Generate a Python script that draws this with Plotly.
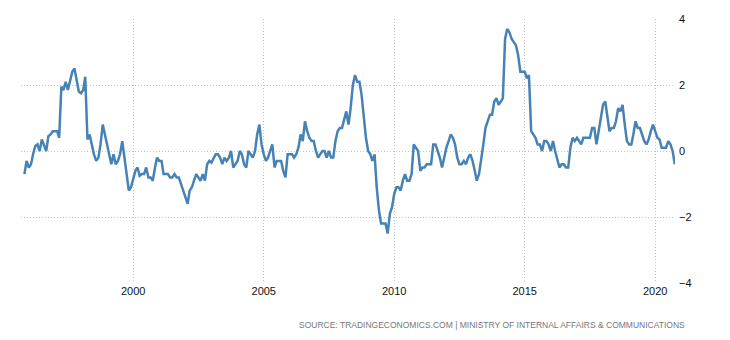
import pandas as pd
import plotly.graph_objects as go

# Japan inflation rate, year-on-year %, monthly from Nov 1995 to Oct 2020
start_month = "1995-11-01"
inflation = [
    -0.7, -0.3,
    -0.5, -0.4, -0.1, 0.15, 0.2, 0.0, 0.35, 0.15, 0.0, 0.45, 0.5, 0.6,
    0.6, 0.6, 0.4, 1.95, 1.85, 2.1, 1.85, 2.1, 2.4, 2.5, 2.1, 1.8,
    1.75, 1.85, 2.25, 0.35, 0.5, 0.15, -0.1, -0.3, -0.2, 0.2, 0.8, 0.5,
    0.2, -0.1, -0.4, -0.1, -0.4, -0.3, -0.1, 0.3, -0.2, -0.7, -1.2, -1.1,
    -0.8, -0.6, -0.5, -0.75, -0.7, -0.7, -0.5, -0.8, -0.8, -0.9, -0.5, -0.2,
    -0.3, -0.3, -0.7, -0.7, -0.7, -0.8, -0.8, -0.7, -0.8, -0.8, -1.0, -1.2,
    -1.4, -1.6, -1.2, -1.1, -0.9, -0.7, -0.8, -0.9, -0.7, -0.9, -0.4, -0.3,
    -0.35, -0.2, -0.1, -0.1, -0.2, -0.4, -0.2, -0.3, -0.2, 0.0, -0.5, -0.4,
    -0.3, 0.0, -0.1, -0.4, -0.5, 0.0, -0.1, -0.2, 0.0, 0.5, 0.8, 0.2,
    -0.1, -0.3, -0.2, 0.0, 0.2, -0.5, -0.3, -0.3, -0.3, -0.6, -0.8, -0.1,
    -0.1, -0.1, -0.2, -0.1, 0.1, 0.5, 0.3, 0.9, 0.6, 0.4, 0.3, 0.3,
    0.0, -0.2, -0.1, 0.0, 0.0, -0.2, 0.0, -0.2, -0.2, 0.3, 0.6, 0.7,
    0.7, 1.0, 1.2, 0.8, 1.3, 2.0, 2.3, 2.1, 2.1, 1.7, 1.0, 0.4,
    0.0, -0.1, -0.3, -0.1, -1.1, -1.8, -2.2, -2.2, -2.2, -2.5, -1.9, -1.7,
    -1.3, -1.1, -1.1, -1.2, -0.9, -0.7, -0.9, -0.9, -0.7, 0.2, 0.1, 0.0,
    -0.6, -0.5, -0.5, -0.4, -0.4, -0.4, 0.2, 0.2, 0.0, -0.2, -0.5, -0.2,
    0.1, 0.3, 0.5, 0.4, 0.2, -0.2, -0.4, -0.4, -0.3, -0.4, -0.2, -0.1,
    -0.3, -0.6, -0.9, -0.7, -0.3, 0.2, 0.7, 0.9, 1.1, 1.1, 1.5, 1.6,
    1.4, 1.5, 1.6, 3.4, 3.7, 3.6, 3.4, 3.3, 3.2, 2.9, 2.4, 2.4,
    2.4, 2.2, 2.3, 0.6, 0.5, 0.4, 0.2, 0.2, 0.0, 0.3, 0.3, 0.2,
    0.0, 0.3, 0.0, -0.3, -0.5, -0.4, -0.4, -0.5, -0.5, 0.1, 0.4, 0.3,
    0.4, 0.3, 0.2, 0.4, 0.4, 0.4, 0.4, 0.7, 0.7, 0.2, 0.6, 1.0,
    1.4, 1.5, 1.1, 0.6, 0.7, 0.7, 0.9, 1.3, 1.2, 1.4, 0.8, 0.3,
    0.2, 0.2, 0.5, 0.9, 0.7, 0.7, 0.5, 0.3, 0.2, 0.35, 0.6, 0.8,
    0.6, 0.4, 0.35, 0.1, 0.1, 0.1, 0.3, 0.2, 0.0, -0.4,
]
months = pd.date_range(start_month, periods=len(inflation), freq="MS")

y_ticks = [-4, -2, 0, 2, 4]
x_range = ["1995-09-14", "2020-10-04"]
source_text = "SOURCE: TRADINGECONOMICS.COM | MINISTRY OF INTERNAL AFFAIRS & COMMUNICATIONS"

fig = go.Figure(
    go.Scatter(
        x=months,
        y=inflation,
        mode="lines",
        line=dict(color="#4682b4", width=2.5),
        hoverinfo="x+y",
    )
)

grid = dict(showgrid=True, gridcolor="#c4c4c4", gridwidth=1, griddash="1px,2px")

fig.update_layout(
    width=730,
    height=340,
    margin=dict(l=21, r=55, t=19, b=57),
    paper_bgcolor="white",
    plot_bgcolor="white",
    showlegend=False,
    font=dict(family="Liberation Sans, Arial, sans-serif", size=11, color="#111"),
    xaxis=dict(
        range=x_range,
        tick0="2000-01-01",
        dtick="M60",
        tickformat="%Y",
        ticks="",
        showline=False,
        zeroline=False,
        **grid,
    ),
    yaxis=dict(
        side="right",
        range=[-4, 4],
        tickvals=y_ticks,
        ticks="",
        showline=False,
        zeroline=False,
        ticklabelstandoff=3,
        **grid,
    ),
    annotations=[
        dict(
            text=source_text,
            xref="paper",
            yref="paper",
            x=1.018,
            y=-0.159,
            xanchor="right",
            yanchor="middle",
            showarrow=False,
            font=dict(size=8.5, color="#777"),
        )
    ],
)

fig.write_html("out.html")
